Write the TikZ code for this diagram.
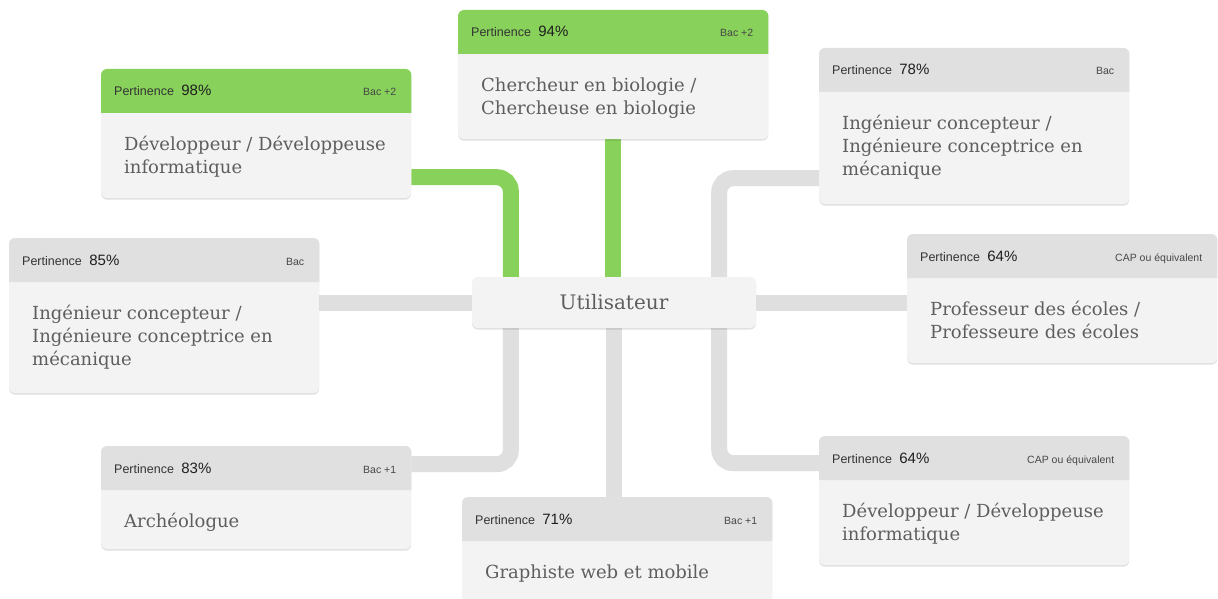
\documentclass[tikz,border=0pt]{standalone}
\usepackage{fontspec}
\setmainfont{DejaVu Serif}
\newfontfamily\hdrfont{Liberation Sans}
\usetikzlibrary{backgrounds,shadows}
\definecolor{grn}{HTML}{88D15A}
\definecolor{hgr}{HTML}{E0E0E0}
\definecolor{bdy}{HTML}{F3F3F3}
\definecolor{lnk}{HTML}{DFDFDF}
\definecolor{ttl}{HTML}{5E5E5E}
\tikzset{
  x=1pt, y=-1pt,
  cardbox/.style={fill=bdy, rounded corners=6pt, draw=none, inner sep=0pt, anchor=north west,
    minimum width=310pt,
    drop shadow={shadow xshift=0pt, shadow yshift=-1.5pt, opacity=0.12, fill=black}},
  userbox/.style={fill=bdy, rounded corners=6pt, draw=none, inner sep=0pt,
    minimum width=284pt, minimum height=51pt, text=ttl,
    font=\fontsize{20}{24}\selectfont,
    drop shadow={shadow xshift=0pt, shadow yshift=-1.5pt, opacity=0.12, fill=black}},
  plbl/.style={anchor=base west, inner sep=0pt, text=black!80, font=\hdrfont\fontsize{12.5}{14}\selectfont},
  pctlbl/.style={anchor=base west, inner sep=0pt, text=black!88, font=\hdrfont\fontsize{15}{17}\selectfont},
  lvllbl/.style={anchor=base east, inner sep=0pt, text=black!72, font=\hdrfont\fontsize{10.5}{12}\selectfont},
  ttlstyle/.style={anchor=north west, inner sep=0pt, align=left, text=ttl,
    font=\fontsize{18}{23}\selectfont},
  gconn/.style={draw=grn, line width=16pt, rounded corners=14pt},
  lconn/.style={draw=lnk, line width=16pt, rounded corners=14pt},
}
\newcommand\card[8]{%
  \node[cardbox, minimum height=#4pt] (#1) at (#2,#3) {};
  \fill[#5] ([yshift=-44pt]#1.north west) [rounded corners=6pt] -- (#1.north west) -- (#1.north east) [sharp corners] -- ([yshift=-44pt]#1.north east) -- cycle;
  \node[plbl] (#1-l) at ([xshift=13pt,yshift=-27pt]#1.north west) {Pertinence};
  \node[pctlbl] (#1-p) at ([xshift=7pt]#1-l.base east) {#6};
  \node[lvllbl] (#1-v) at ([xshift=-15pt,yshift=-27pt]#1.north east) {#7};
  \node[ttlstyle] (#1-t) at ([xshift=23pt,yshift=-63pt]#1.north west) {\rule{0pt}{18pt}#8};
}
\begin{document}
\begin{tikzpicture}
\path[use as bounding box] (0,0) rectangle (1218,599);
\clip (0,0) rectangle (1218,599);

\node[userbox] (user) at (614,302.5) {Utilisateur};

\card{dev98}{101}{69}{129}{grn}{98\%}{Bac +2}{Développeur / Développeuse\\informatique}
\card{cher}{458}{10}{129}{grn}{94\%}{Bac +2}{Chercheur en biologie /\\Chercheuse en biologie}
\card{ing78}{819}{48}{156}{hgr}{78\%}{Bac}{Ingénieur concepteur /\\Ingénieure conceptrice en\\mécanique}
\card{ing85}{9}{238}{155}{hgr}{85\%}{Bac}{Ingénieur concepteur /\\Ingénieure conceptrice en\\mécanique}
\card{prof}{907}{234}{129}{hgr}{64\%}{CAP ou équivalent}{Professeur des écoles /\\Professeure des écoles}
\card{arch}{101}{446}{103}{hgr}{83\%}{Bac +1}{Archéologue}
\card{graph}{462}{497}{112}{hgr}{71\%}{Bac +1}{Graphiste web et mobile}
\card{dev64}{819}{436}{129}{hgr}{64\%}{CAP ou équivalent}{Développeur / Développeuse\\informatique}

\begin{scope}[on background layer]
  \fill[white] (0,0) rectangle (1218,599);
  \draw[gconn] ([yshift=-43.5pt]dev98.east) -| ([xshift=39pt]user.north west);
  \draw[gconn] (cher.south) -- (cher.south |- user.north);
  \draw[lconn] ([yshift=-52pt]ing78.west) -| ([xshift=-37pt]user.north east);
  \draw[lconn] (user.west) -- (user.west -| ing85.east);
  \draw[lconn] (user.east) -- (user.east -| prof.west);
  \draw[lconn] ([xshift=39pt]user.south west) |- ([yshift=33.5pt]arch.east);
  \draw[lconn] (user.south) -- (user.south |- graph.north);
  \draw[lconn] ([xshift=-37pt]user.south east) |- ([yshift=37.5pt]dev64.west);
\end{scope}
\end{tikzpicture}
\end{document}
